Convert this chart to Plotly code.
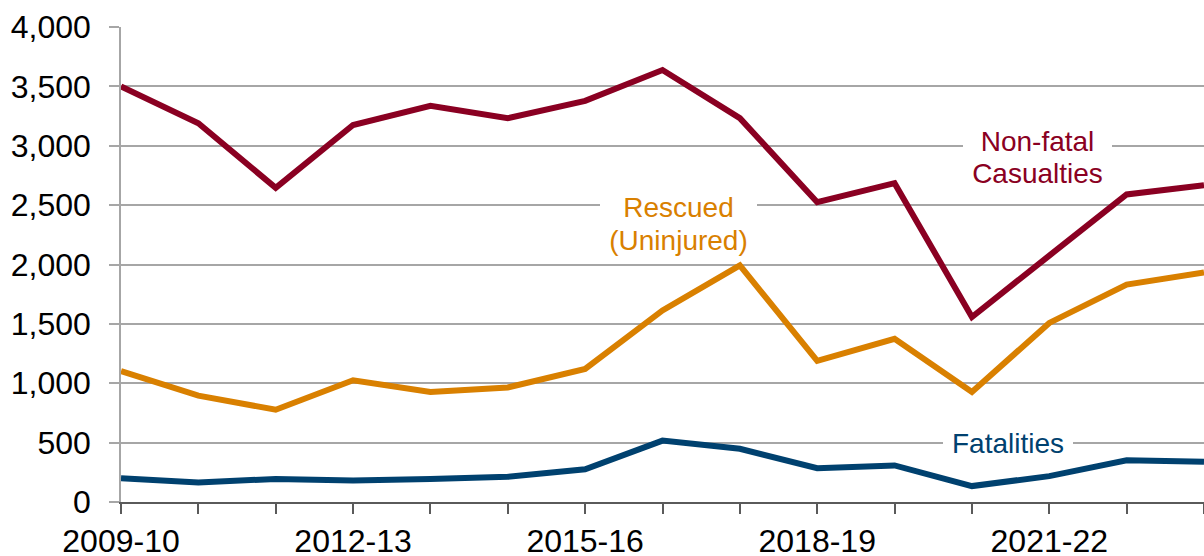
import plotly.graph_objects as go

years = ["2009-10", "2010-11", "2011-12", "2012-13", "2013-14", "2014-15", "2015-16",
         "2016-17", "2017-18", "2018-19", "2019-20", "2020-21", "2021-22", "2022-23", "2023-24"]
non_fatal = [3500, 3190, 2645, 3175, 3337, 3232, 3378, 3638, 3232, 2524, 2685, 1558, 2075, 2590, 2668]
rescued = [1102, 896, 777, 1025, 926, 965, 1120, 1613, 1992, 1189, 1374, 926, 1508, 1831, 1933]
fatalities = [200, 164, 194, 182, 194, 212, 275, 517, 448, 284, 308, 134, 218, 352, 338]
tick_labels = [y if i % 3 == 0 else "" for i, y in enumerate(years)]

RED = "#8A0022"
ORANGE = "#D98000"
BLUE = "#00416F"

fig = go.Figure()
for vals, col, name in [(fatalities, BLUE, "Fatalities"), (rescued, ORANGE, "Rescued (Uninjured)"),
                        (non_fatal, RED, "Non-fatal Casualties")]:
    fig.add_trace(go.Scatter(x=years, y=vals, mode="lines", name=name,
                             line=dict(color=col, width=6), showlegend=False))

ann_font = "Liberation Sans, Arial, sans-serif"
anns = [
    ("Non-fatal", 11.845, 3040, 149, RED),
    ("Casualties", 11.845, 2770, 149, RED),
    ("Rescued", 7.207, 2479, 157, ORANGE),
    ("(Uninjured)", 7.207, 2206, 157, ORANGE),
    ("Fatalities", 11.46, 494, 130, BLUE),
]
for text, xi, yv, w, col in anns:
    fig.add_annotation(x=xi, y=yv, xref="x", yref="y", text=text, showarrow=False,
                       font=dict(family=ann_font, size=28, color=col),
                       bgcolor="white", borderpad=0, borderwidth=0, width=w,
                       xanchor="center", yanchor="middle")

fig.update_layout(
    width=1204, height=556,
    margin=dict(l=121, r=0, t=27, b=54),
    paper_bgcolor="white", plot_bgcolor="white",
    font=dict(family="Liberation Sans, Arial, sans-serif", size=32, color="#000000"),
)
fig.update_xaxes(
    type="category", range=[0, 14], tickmode="array", tickvals=years, ticktext=tick_labels,
    showgrid=False, showline=True, linecolor="#5a5a5a", linewidth=2,
    ticks="outside", ticklen=10, tickwidth=1.5, tickcolor="#5a5a5a",
    tickfont=dict(size=32), tickangle=0, zeroline=False, automargin=False,
    ticklabelstandoff=0,
)
fig.update_yaxes(
    range=[0, 4000], dtick=500, tickformat=",", showgrid=True, gridcolor="#a6a6a6", gridwidth=1.5,
    showline=True, linecolor="#a6a6a6", linewidth=1.5,
    ticks="outside", ticklen=10, tickwidth=1.5, tickcolor="#a6a6a6",
    tickfont=dict(size=32), zeroline=False, ticklabelstandoff=12, automargin=False,
)
fig.write_html("out.html", config={"displayModeBar": False},
               post_script="document.body.style.margin='0';document.body.style.overflow='hidden';")
